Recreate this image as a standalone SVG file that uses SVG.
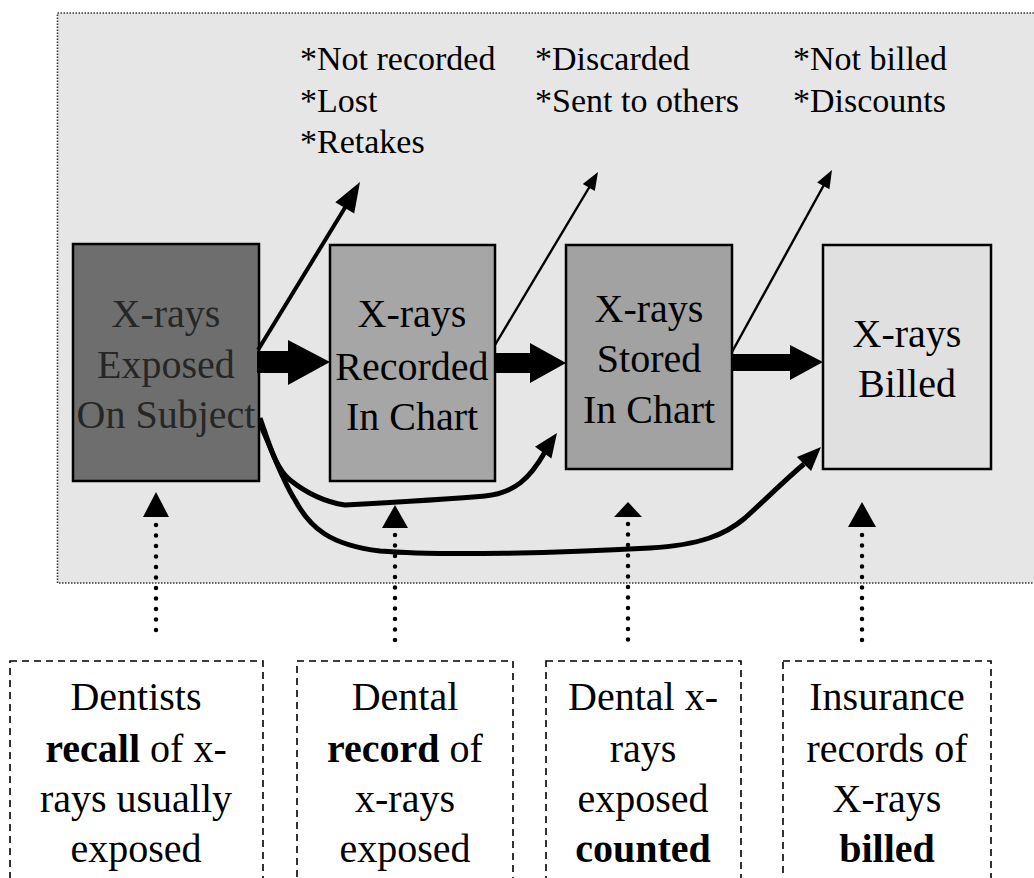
<svg xmlns="http://www.w3.org/2000/svg" width="1034" height="878" viewBox="0 0 1034 878">
<style>
text{font-family:"Liberation Serif","Times New Roman",serif;fill:#000}
.lbl{font-size:34px}
.bx{font-size:40px;text-anchor:middle}
.src{font-size:40px;text-anchor:middle}
.b{font-weight:bold}
.node{stroke:#000;stroke-width:2.5}
.dash{fill:#fff;stroke:#000;stroke-width:1.6;stroke-dasharray:7 5}
.dot{stroke:#000;stroke-width:4.5;stroke-linecap:round;stroke-dasharray:0 10.5;fill:none}
.curve{fill:none;stroke:#000;stroke-width:5;stroke-linejoin:round}
</style>
<rect width="1034" height="878" fill="#fff"/>
<g id="panel">
<rect x="57.5" y="13" width="990" height="570" fill="#e6e6e6" stroke="#333" stroke-width="1.6" stroke-dasharray="1.5 1.5"/>
</g>
<g id="loss-labels">
<text class="lbl" x="300" y="70">*Not recorded</text>
<text class="lbl" x="300" y="112">*Lost</text>
<text class="lbl" x="300" y="153">*Retakes</text>
<text class="lbl" x="535" y="70">*Discarded</text>
<text class="lbl" x="535" y="112">*Sent to others</text>
<text class="lbl" x="793" y="70">*Not billed</text>
<text class="lbl" x="793" y="112">*Discounts</text>
</g>
<g id="node-exposed">
<rect class="node" x="73" y="244" width="186" height="237" fill="#6e6e6e"/>
<text class="bx" x="166" y="327" fill="#262626" style="fill:#262626">X-rays</text>
<text class="bx" x="166" y="378" style="fill:#262626">Exposed</text>
<text class="bx" x="166" y="428" style="fill:#262626">On Subject</text>
</g>
<g id="node-recorded">
<rect class="node" x="330" y="245" width="165" height="236" fill="#a6a6a6"/>
<text class="bx" x="412" y="327">X-rays</text>
<text class="bx" x="412" y="380">Recorded</text>
<text class="bx" x="412" y="430">In Chart</text>
</g>
<g id="node-stored">
<rect class="node" x="566" y="245" width="166" height="224" fill="#a2a2a2"/>
<text class="bx" x="649" y="322">X-rays</text>
<text class="bx" x="649" y="372">Stored</text>
<text class="bx" x="649" y="423">In Chart</text>
</g>
<g id="node-billed">
<rect class="node" x="823" y="245" width="168" height="224" fill="#e0e0e0"/>
<text class="bx" x="907" y="347">X-rays</text>
<text class="bx" x="907" y="397">Billed</text>
</g>
<g id="connectors">
<polygon points="257,351 288,351 288,340 330,362 288,385 288,373 257,373" fill="#000"/>
<polygon points="495,353 530,353 530,343 566,363 530,383 530,373 495,373" fill="#000"/>
<polygon points="732,354 790,354 790,345 823,362 790,380 790,371 732,371" fill="#000"/>
<line x1="258" y1="350" x2="346" y2="206" stroke="#000" stroke-width="4"/>
<polygon points="360,182 354.2,213.4 335.3,202.2" fill="#000"/>
<line x1="495" y1="345" x2="590" y2="186" stroke="#000" stroke-width="2.4"/>
<polygon points="598,172 594.8,191.1 582.8,183.9" fill="#000"/>
<line x1="732" y1="352" x2="825" y2="183" stroke="#000" stroke-width="2.4"/>
<polygon points="832,170 829.4,189.2 817.2,182.4" fill="#000"/>
<path class="curve" d="M260,418 C268,440 275,468 290,480 C305,492 325,502 345,505 C400,502 450,499 485,496 C515,493 530,478 545,452"/>
<polygon points="557,433 551.4,458.4 535,446.8" fill="#000"/>
<path class="curve" d="M260,424 C272,450 282,480 295,500 C310,528 330,545 380,551 C440,556 560,553 650,548 C700,545 725,535 745,518 C765,500 785,480 804,464"/>
<polygon points="821,447 811.1,471.1 796.9,456.9" fill="#000"/>
<polygon points="156,492 169,517 143,517" fill="#000"/>
<polygon points="395,505 408,528 382,528" fill="#000"/>
<polygon points="628,502 642,517 614,517" fill="#000"/>
<polygon points="862,502 876,527 848,527" fill="#000"/>
<line class="dot" x1="156" y1="525" x2="156" y2="633"/>
<line class="dot" x1="395" y1="535" x2="395" y2="644"/>
<line class="dot" x1="628" y1="524" x2="628" y2="642"/>
<line class="dot" x1="862" y1="535" x2="862" y2="642"/>
</g>
<g id="src-recall">
<rect class="dash" x="10" y="661" width="253" height="240"/>
<text class="src" x="136" y="710">Dentists</text>
<text class="src" x="136" y="762"><tspan class="b">recall</tspan> of x-</text>
<text class="src" x="136" y="812">rays usually</text>
<text class="src" x="136" y="862">exposed</text>
</g>
<g id="src-record">
<rect class="dash" x="297" y="661" width="216" height="240"/>
<text class="src" x="405" y="710">Dental</text>
<text class="src" x="405" y="762"><tspan class="b">record</tspan> of</text>
<text class="src" x="405" y="812">x-rays</text>
<text class="src" x="405" y="862">exposed</text>
</g>
<g id="src-counted">
<rect class="dash" x="546" y="661" width="195" height="240"/>
<text class="src" x="643" y="710">Dental x-</text>
<text class="src" x="643" y="762">rays</text>
<text class="src" x="643" y="812">exposed</text>
<text class="src b" x="643" y="862">counted</text>
</g>
<g id="src-billed">
<rect class="dash" x="783" y="661" width="208" height="240"/>
<text class="src" x="887" y="710">Insurance</text>
<text class="src" x="887" y="762">records of</text>
<text class="src" x="887" y="812">X-rays</text>
<text class="src b" x="887" y="862">billed</text>
</g>
</svg>
